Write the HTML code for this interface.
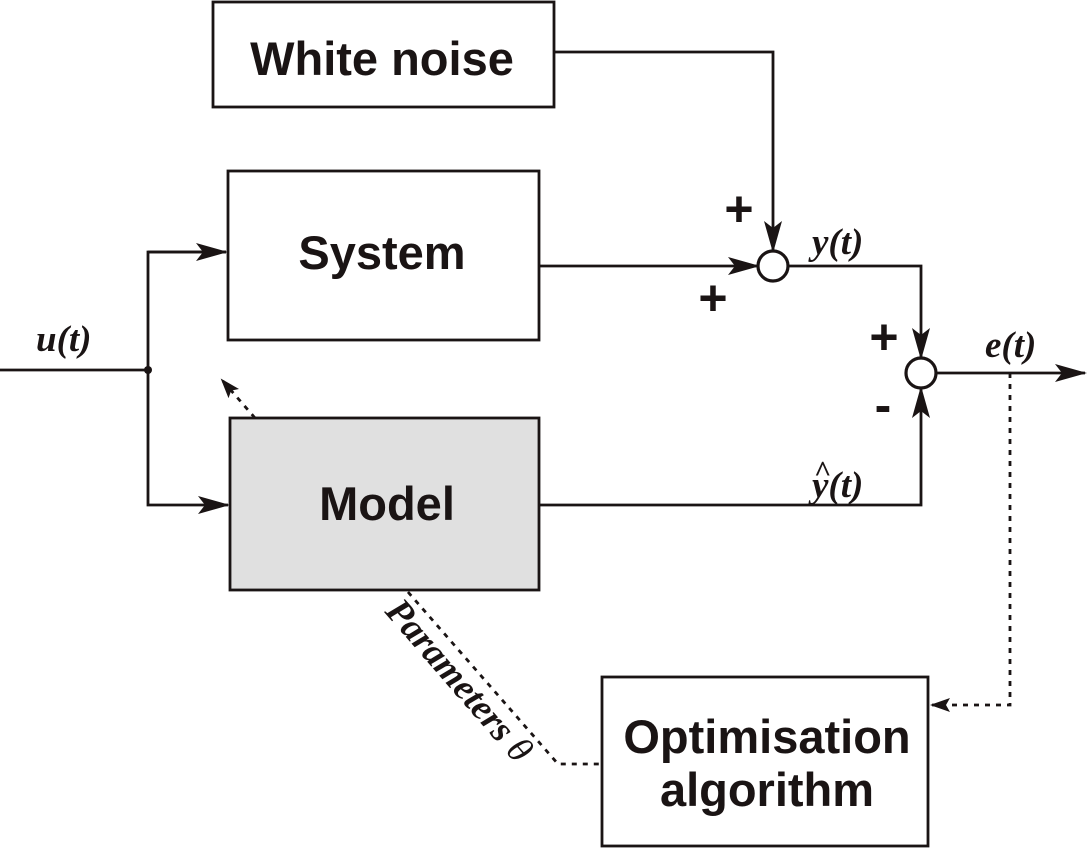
<!DOCTYPE html>
<html><head><style>body{margin:0;background:#fff}svg{display:block}</style></head><body>
<svg width="1088" height="850" viewBox="0 0 1088 850" xmlns="http://www.w3.org/2000/svg">
<defs>
<marker id="a" markerWidth="32" markerHeight="18" refX="30" refY="9" orient="auto" markerUnits="userSpaceOnUse">
<path d="M0,0 L32,9 L0,18 L7,9 Z" fill="#1a1414"/></marker>
<marker id="s" markerWidth="20" markerHeight="14" refX="18" refY="7" orient="auto" markerUnits="userSpaceOnUse">
<path d="M0,0 L20,7 L0,14 L4,7 Z" fill="#1a1414"/></marker>
</defs>
<g stroke="#1a1414" stroke-width="2.8" fill="none">
<rect x="213" y="2" width="341" height="105" fill="#fff"/>
<rect x="228" y="171" width="311" height="169" fill="#fff"/>
<rect x="230" y="418" width="309" height="172" fill="#e0e0e0"/>
<rect x="602" y="677" width="326" height="169" fill="#fff"/>
<line x1="0" y1="370" x2="148" y2="370"/>
<polyline points="226,252 148,252 148,505 228,505" marker-end="url(#a)"/>
<line x1="148" y1="252" x2="226" y2="252" marker-end="url(#a)"/>
<line x1="539" y1="266" x2="758" y2="266" marker-end="url(#a)"/>
<polyline points="554,52 773,52 773,251" marker-end="url(#a)"/>
<polyline points="787,266 921,266 921,358" marker-end="url(#a)"/>
<polyline points="539,505 921,505 921,388" marker-end="url(#a)"/>
<line x1="935" y1="373" x2="1085" y2="373" marker-end="url(#a)"/>
<circle cx="773" cy="266" r="15" fill="#fff" stroke-width="3.2"/>
<circle cx="921" cy="373" r="15" fill="#fff" stroke-width="3.2"/>
</g>
<circle cx="148" cy="370" r="4" fill="#1a1414"/>
<g stroke="#1a1414" stroke-width="2.8" fill="none" stroke-dasharray="5,6">
<polyline points="1010,373 1010,705 932,705" marker-end="url(#s)"/>
<line x1="255" y1="418" x2="222" y2="380" marker-end="url(#s)"/>
<polyline points="408,592 558,764 602,764"/>
</g>
<g font-family="Liberation Sans, sans-serif" font-weight="bold" fill="#1a1414" text-anchor="middle">
<text x="382" y="75" font-size="47">White noise</text>
<text x="382" y="269" font-size="47">System</text>
<text x="387" y="520" font-size="47">Model</text>
<text x="767" y="753" font-size="47">Optimisation</text>
<text x="767" y="806" font-size="47">algorithm</text>
<text x="739" y="226" font-size="50">+</text>
<text x="713" y="315" font-size="50">+</text>
<text x="884" y="354" font-size="50">+</text>
<text x="883" y="422" font-size="50">-</text>
</g>
<g font-family="Liberation Serif, serif" font-weight="bold" font-style="italic" fill="#1a1414" font-size="37">
<text x="36" y="351">u(t)</text>
<text x="812" y="254">y(t)</text>
<text x="985" y="357">e(t)</text>
<text x="812" y="497">y(t)</text>
<text x="814" y="481" font-size="30" font-style="normal">^</text>
<text transform="translate(384,612) rotate(49)">Parameters <tspan font-weight="normal">θ</tspan></text>
</g>
</svg>
</body></html>
